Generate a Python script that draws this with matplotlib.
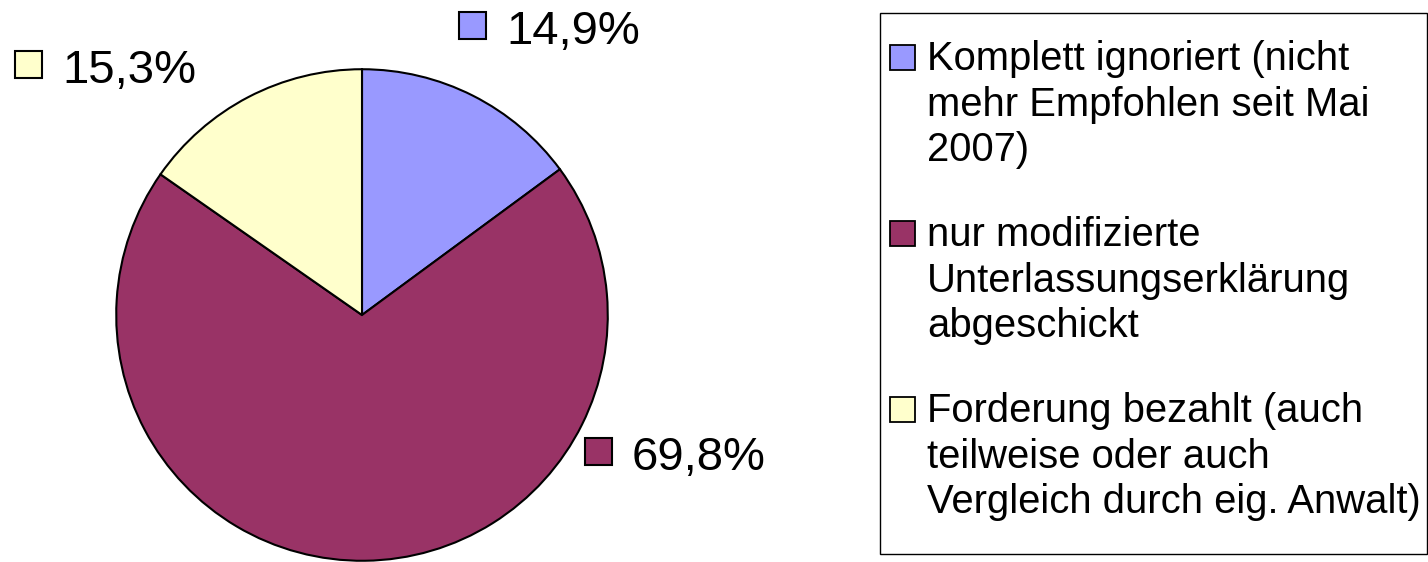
import matplotlib
matplotlib.use("Agg")
import matplotlib.pyplot as plt
from matplotlib.patches import Rectangle

# ---- data ----
categories = [
    "Komplett ignoriert (nicht\nmehr Empfohlen seit Mai\n2007)",
    "nur modifizierte\nUnterlassungserklärung\nabgeschickt",
    "Forderung bezahlt (auch\nteilweise oder auch\nVergleich durch eig. Anwalt)",
]
values = [14.9, 69.8, 15.3]
colors = ["#9999FF", "#993366", "#FFFFCC"]

W, H = 1428, 562
plt.rcParams["font.family"] = ["Liberation Sans", "DejaVu Sans"]

fig = plt.figure(figsize=(W / 100, H / 100), dpi=100)
fig.patch.set_facecolor("white")


def fx(x):
    return x / W


def fy(y):
    return 1 - y / H


# pie axes: centre (362, 315), radius 247 px
cx, cy, r = 362, 315, 247
ax = fig.add_axes([fx(cx - r), fy(cy + r), 2 * r / W, 2 * r / H])
ax.pie(values, colors=colors, startangle=90, counterclock=False,
       wedgeprops=dict(edgecolor="black", linewidth=1.5), radius=1.0)
ax.set_xlim(-1.005, 1.005)
ax.set_ylim(-1.005, 1.005)
ax.set_aspect("equal")
ax.axis("off")


def square(x, y, size, color, lw=1.3):
    fig.patches.append(Rectangle((fx(x), fy(y + size)), size / W, size / H,
                                 transform=fig.transFigure, facecolor=color,
                                 edgecolor="black", linewidth=lw))


# pie data labels: (square left px, text baseline px) per slice
label_pos = [(459, 44), (585, 470), (15, 83)]
for v, c, (sx, base) in zip(values, colors, label_pos):
    square(sx, base - 32, 27, c, lw=1.5)
    fig.text(fx(sx + 47), fy(base), f"{v:.1f}%".replace(".", ","), fontsize=34,
             va="baseline", ha="left")

# legend box
fig.patches.append(Rectangle((fx(880), fy(554)), (1427 - 880) / W, (554 - 13) / H,
                             transform=fig.transFigure, facecolor="white",
                             edgecolor="black", linewidth=1.0))
group_base = [70, 246, 422]
line_step = 45.5
for lab, c, b in zip(categories, colors, group_base):
    square(890, b - 25, 25, c)
    for i, line in enumerate(lab.split("\n")):
        fig.text(fx(927), fy(b + i * line_step), line, fontsize=28.8,
                 va="baseline", ha="left")

fig.savefig("out.png", dpi=100, facecolor="white")
